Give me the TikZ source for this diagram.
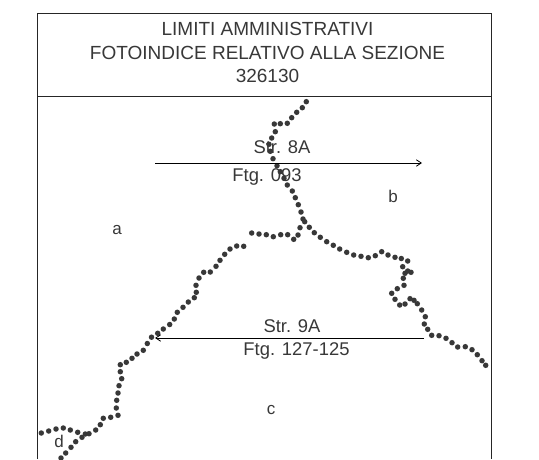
\documentclass[tikz,border=0pt]{standalone}
\usepackage{fontspec}
\setmainfont{Liberation Sans}
\usetikzlibrary{arrows.meta}
\tikzset{
  frameline/.style={line width=1pt,draw=black!85},
  flow/.style={line width=0.9pt,draw=black,-{Straight Barb[length=5pt,width=6.5pt,line width=0.8pt]}},
  lab/.style={inner sep=0pt,text=black!78,font=\fontsize{18.4}{23.5}\selectfont},
  titlelab/.style={lab,font=\fontsize{19}{23.5}\selectfont},
  letterlab/.style={lab,font=\fontsize{17}{18}\selectfont},
  dotmark/.style={fill=black!78,draw=none}
}
\begin{document}
\begin{tikzpicture}[x=1pt,y=-1pt]
\useasboundingbox (0,0) rectangle (539,459);
\fill[white] (0,0) rectangle (539,459);
\coordinate (tl) at (37.5,13.5);
\coordinate (tr) at (491,13.5);
\coordinate (bl) at (37.5,459);
\coordinate (br) at (491,459);
\coordinate (dl) at (37.5,96.5);
\coordinate (dr) at (491,96.5);
\draw[frameline] (bl) -- (tl) -- (tr) -- (br);
\draw[frameline] (dl) -- (dr);
\foreach \x/\y in {306.3/101.7,302.3/107.7,296.7/112.3,291.7/117.7,287.3/123.3,280.3/123.7,274.3/124,275.3/131.7,271.7/138,269/144.3,270.3/151.3,273/158.7,277/165.7,280.3/171.7,284/178.3,287.3/185,292.3/191,295.3/197.7,298.3/204.7,301/212,303/219,304.7/221.7,309.3/227.3,314.3/232.7,320.3/237.3,326.7/241.7,333.3/245.3,339.7/249,346.7/252.3,353.7/255,361/256.3,368.3/257.7,375.3/255.7,381.7/251.7,388/255,395/257.3,401.3/258.5,407.7/261,402.7/266.7,405/273.3,407.7/271,411/272.3,403.3/278.3,404/285.3,397.3/288.7,391.7/293.3,395/299.3,399.7/305,405/304,410/298.7,414/300.3,417.3/303.7,421.7/310,425.3/316.7,424.3/324,427.7/329.3,431.7/335.3,439/335.7,446/338.3,452/342.7,457.7/347,465.3/346.7,472/349.7,477.3/354.7,482/360.7,485.7/365.3,
300/227.7,298/235,293.7/239.3,287.7/234.7,280.7/234.7,273.3/236.7,266.3/234.7,259/234,251.7/233,243.7/246.3,236.7/246,230/249,224.7/254.3,220/260.3,216/266.3,210.3/272,203.7/272.3,199/278,196/285.3,196.3/292.3,194.3/297.7,188.3/302,183/307.3,177.3/312.3,174.3/319,169.7/324.5,163.3/329,157.7/333.3,151.5/337.2,147.3/343.5,143.3/350.3,137/354,132/358.3,126.3/362.3,120.3/364.7,120.3/371.7,121.7/378.7,119/385.7,118/393,116.7/400.3,116.3/408,118/415.3,110.7/417.3,103.3/418.3,100.3/424.7,95.7/430,89/433.7,85.3/434,82/437.3,75.7/441.7,71/447.3,65.7/453,61/458,77.7/432.3,70.3/430,63.3/428,56/429,48.7/431,41.3/433}
  \fill[dotmark] (\x,\y) circle (2.75);
\node[titlelab,align=center,anchor=center] (title) at (267.5,52.5) {LIMITI AMMINISTRATIVI\\FOTOINDICE RELATIVO ALLA SEZIONE\\326130};
\coordinate (a1s) at (155,163);
\coordinate (a1e) at (422,163);
\coordinate (a2s) at (424,338);
\coordinate (a2e) at (155,338);
\draw[flow] (a1s) -- (a1e);
\draw[flow] (a2s) -- (a2e);
\node[lab] (s8) at (282,147) {Str. 8A};
\node[lab] (f8) at (267,177) {Ftg. 093};
\node[lab] (s9) at (292,326) {Str. 9A};
\node[lab] (f9) at (296.5,351) {Ftg. 127-125};
\node[letterlab] (la) at (117,230) {a};
\node[letterlab] (lb) at (393,196) {b};
\node[letterlab] (lc) at (271,410) {c};
\node[letterlab] (ld) at (59,441) {d};
\end{tikzpicture}
\end{document}
